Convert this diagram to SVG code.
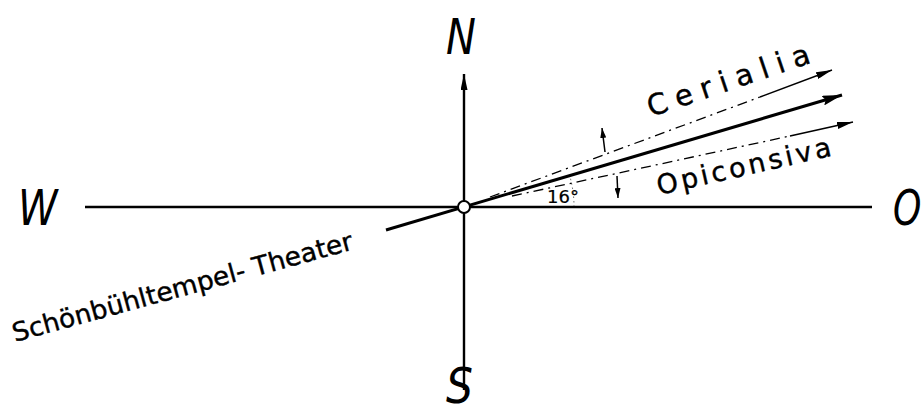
<svg xmlns="http://www.w3.org/2000/svg" width="922" height="415" viewBox="0 0 922 415">
<defs>
<style>
.ax{stroke:#000;stroke-width:2.4;fill:none}
.main{stroke:#000;stroke-width:3;fill:none}
.dd{stroke:#000;stroke-width:1.3;fill:none;stroke-dasharray:10 5 2 5}
.thin{stroke:#000;stroke-width:1.5;fill:none}
.lbl{font-family:"DejaVu Sans","Liberation Sans",sans-serif;fill:#000;stroke:#000;stroke-width:0.4}
.cmp{font-family:"DejaVu Sans","Liberation Sans",sans-serif;font-style:italic;font-size:50px;fill:#000}
</style>
<marker id="ah" viewBox="0 0 10 6" refX="10" refY="3" markerWidth="10" markerHeight="6" markerUnits="userSpaceOnUse" orient="auto">
<path d="M0,0 L10,3 L0,6 Z" fill="#000"/>
</marker>
<marker id="ahBig" viewBox="0 0 20 10" refX="20" refY="5" markerWidth="20" markerHeight="10" markerUnits="userSpaceOnUse" orient="auto">
<path d="M0,0 L20,5 L0,10 L3,5 Z" fill="#000"/>
</marker>
<marker id="ahMid" viewBox="0 0 16 7" refX="16" refY="3.5" markerWidth="16" markerHeight="7" markerUnits="userSpaceOnUse" orient="auto">
<path d="M0,0 L16,3.5 L0,7 Z" fill="#000"/>
</marker>
</defs>
<rect width="922" height="415" fill="#fff"/>
<g id="connectors">
<line class="ax" x1="85" y1="207" x2="872" y2="207"/>
<line class="ax" x1="464" y1="390" x2="464" y2="74" marker-end="url(#ahMid)"/>
<line class="main" x1="386" y1="230" x2="842" y2="95" marker-end="url(#ahBig)"/>
<line class="dd" x1="490" y1="197" x2="760" y2="97"/>
<line class="thin" x1="760" y1="97" x2="832" y2="70" marker-end="url(#ahMid)"/>
<line class="dd" x1="512" y1="196" x2="790" y2="136"/>
<line class="thin" x1="790" y1="136" x2="853" y2="122" marker-end="url(#ahMid)"/>
<line class="thin" x1="605" y1="152" x2="602" y2="128" marker-end="url(#ah)"/>
<line class="thin" x1="617" y1="176" x2="618" y2="198" marker-end="url(#ah)"/>
<path d="M574,207 A110,110 0 0 0 570,177" stroke="#000" stroke-width="1" fill="none" stroke-dasharray="1.5 3" opacity="0.6"/>
</g>
<g id="center"><circle cx="464" cy="207" r="6" fill="#fff" stroke="#000" stroke-width="2"/></g>
<g id="N"><text class="cmp" transform="translate(446,54) scale(0.8,1)">N</text></g>
<g id="W"><text class="cmp" transform="translate(18,225) scale(0.8,1)">W</text></g>
<g id="O"><text class="cmp" transform="translate(893,225) scale(0.72,1)">O</text></g>
<g id="S"><text class="cmp" font-size="42" transform="translate(446,403) scale(0.85,1)">S</text></g>
<g id="angle"><text class="lbl" x="547" y="203" font-size="18" style="stroke-width:0.2">16°</text></g>
<g id="cerialia"><text class="lbl" font-size="29" transform="translate(651,117) rotate(-18.7)" textLength="170" lengthAdjust="spacing">Cerialia</text></g>
<g id="opiconsiva"><text class="lbl" font-size="27" transform="translate(659,195) rotate(-12.8)" textLength="178" lengthAdjust="spacing">Opiconsiva</text></g>
<g id="theater"><text class="lbl" font-size="26" transform="translate(15,342) rotate(-15.3)" textLength="352" lengthAdjust="spacingAndGlyphs">Schönbühltempel- Theater</text></g>
</svg>
